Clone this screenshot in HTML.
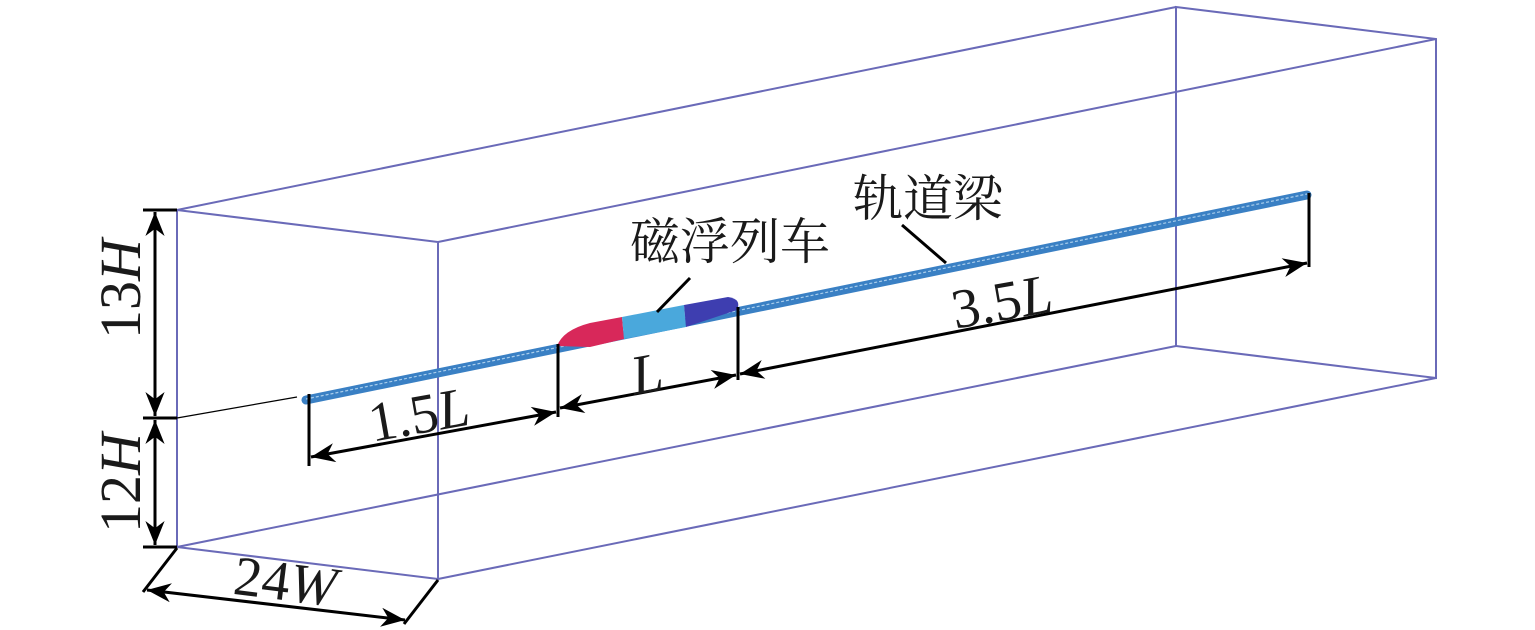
<!DOCTYPE html>
<html><head><meta charset="utf-8"><style>
html,body{margin:0;padding:0;background:#fff;}
svg{display:block;}
text{font-family:"Liberation Serif",serif;fill:#1a1a1a;}
text.cn{font-family:"Liberation Serif","Noto Serif CJK SC",serif;}
</style></head><body>
<svg width="1535" height="630" viewBox="0 0 1535 630" xmlns="http://www.w3.org/2000/svg">
<defs>
<marker id="b" viewBox="0 0 10 10" refX="10" refY="5" markerWidth="24" markerHeight="24" orient="auto-start-reverse" markerUnits="userSpaceOnUse">
<path d="M0,1 L10,5 L0,9 L3,5 z" fill="#000"/></marker>
</defs>
<g stroke="#6a6ab8" stroke-width="2" fill="none">
<polygon points="177,210 438,242 438,579 177,547"/>
<polygon points="1176,7 1436,39 1436,378 1176,346"/>
<line x1="177" y1="210" x2="1176" y2="7"/>
<line x1="438" y1="242" x2="1436" y2="39"/>
<line x1="438" y1="579" x2="1436" y2="378"/>
<line x1="177" y1="547" x2="1176" y2="346"/>
</g>
<!-- beam -->
<line x1="306" y1="400" x2="1307" y2="195" stroke="#3a80c4" stroke-width="9" stroke-linecap="round"/>
<line x1="306" y1="399" x2="1307" y2="194" stroke="#a8cdec" stroke-width="1.2" stroke-dasharray="3 2"/>
<!-- train -->
<path d="M557,346 Q563,330 590,323 L622,317 L624,339 L590,347 Z" fill="#d8285a"/>
<path d="M622,317 L684,305 L686,327 L624,339 Z" fill="#4aa8dc"/>
<path d="M684,305 L728,297 Q742,299 737,310 L686,327 Z" fill="#3e3eb0"/>
<!-- dimensions -->
<g stroke="#000" stroke-width="3" fill="none">
<line x1="143" y1="210" x2="177" y2="210"/>
<line x1="143" y1="418" x2="177" y2="418"/>
<line x1="143" y1="547" x2="177" y2="547"/>
<line x1="155" y1="212" x2="155" y2="416" marker-start="url(#b)" marker-end="url(#b)"/>
<line x1="155" y1="420" x2="155" y2="545" marker-start="url(#b)" marker-end="url(#b)"/>
<line x1="309" y1="394" x2="309" y2="466"/>
<line x1="558" y1="344" x2="558" y2="417"/>
<line x1="738" y1="307" x2="738" y2="380"/>
<line x1="1309" y1="193" x2="1309" y2="267"/>
<line x1="311" y1="457" x2="556" y2="412" marker-start="url(#b)" marker-end="url(#b)"/>
<line x1="560" y1="408" x2="736" y2="375" marker-start="url(#b)" marker-end="url(#b)"/>
<line x1="740" y1="374" x2="1307" y2="263" marker-start="url(#b)" marker-end="url(#b)"/>
<line x1="177" y1="548" x2="143" y2="592"/>
<line x1="438" y1="580" x2="404" y2="624"/>
<line x1="147" y1="590" x2="405" y2="620" marker-start="url(#b)" marker-end="url(#b)"/>
<line x1="657" y1="312" x2="690" y2="278"/>
<line x1="902" y1="225" x2="946" y2="263"/>
</g>
<line x1="177" y1="418" x2="297" y2="397" stroke="#000" stroke-width="1.2"/>
<!-- labels -->
<text x="0" y="0" font-size="58" text-anchor="middle" transform="translate(140,289) rotate(-90)">13<tspan font-style="italic">H</tspan></text>
<text x="0" y="0" font-size="58" text-anchor="middle" transform="translate(140,483) rotate(-90)">12<tspan font-style="italic">H</tspan></text>
<text x="0" y="0" font-size="56" text-anchor="middle" transform="translate(422,433) rotate(-10)">1.5<tspan font-style="italic">L</tspan></text>
<text x="0" y="0" font-size="56" text-anchor="middle" transform="translate(650,392) rotate(-10)"><tspan font-style="italic">L</tspan></text>
<text x="0" y="0" font-size="56" text-anchor="middle" transform="translate(1005,320) rotate(-10)">3.5<tspan font-style="italic">L</tspan></text>
<text x="0" y="0" font-size="56" text-anchor="middle" transform="translate(283,600) rotate(7)">24<tspan font-style="italic">W</tspan></text>
<text class="cn" x="630" y="259" font-size="50">磁浮列车</text>
<text class="cn" x="853" y="216" font-size="50">轨道梁</text>
</svg>
</body></html>
